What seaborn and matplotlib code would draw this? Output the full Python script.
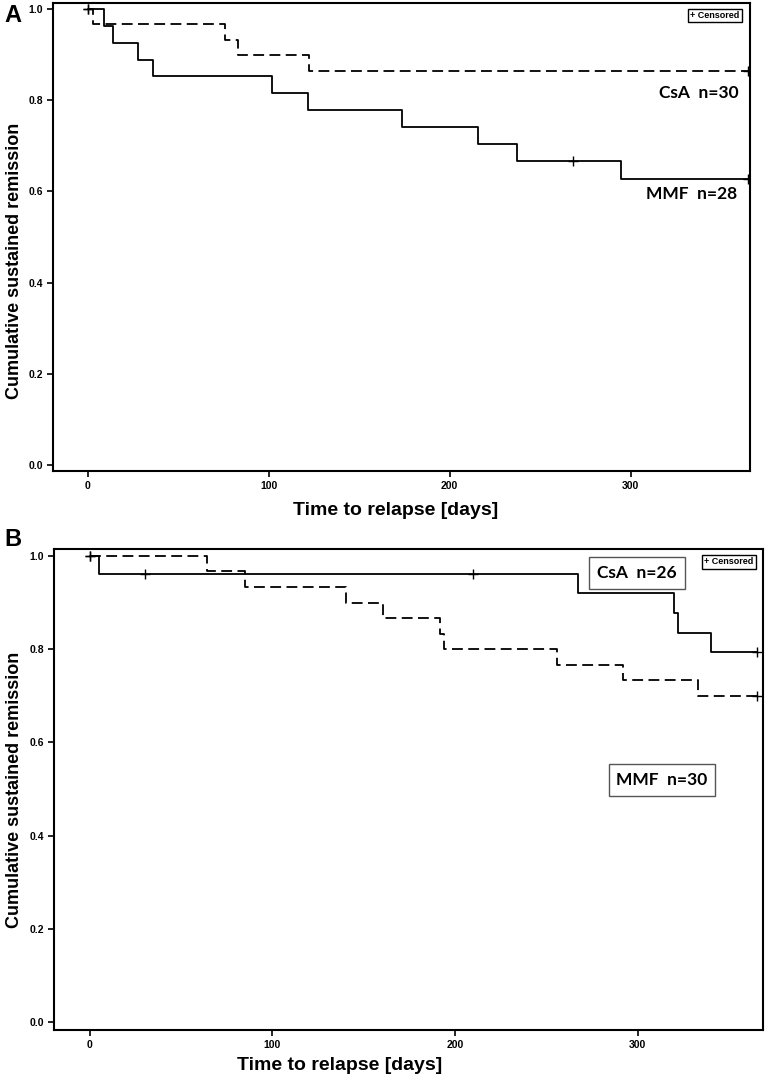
import numpy as np
import pandas as pd
import matplotlib
matplotlib.use("Agg")
import matplotlib.pyplot as plt
import seaborn as sns

# Panel A: step data
a_csa_t = [0, 3, 76, 83, 122, 365]
a_csa_s = [1.0, 0.966, 0.931, 0.898, 0.865, 0.865]
a_csa_cens = [0, 365]

a_mmf_t = [0, 9, 14, 27.5, 36, 101.5, 121.5, 173.5, 215.5, 237, 294.5, 365]
a_mmf_s = [1.0, 0.963, 0.926, 0.889, 0.852, 0.815, 0.778, 0.741, 0.704, 0.667, 0.627, 0.627]
a_mmf_cens = [0, 268, 365]

# Panel B
b_csa_t = [0, 5, 267, 320, 322, 340, 365]
b_csa_s = [1.0, 0.961, 0.92, 0.877, 0.835, 0.793, 0.793]
b_csa_cens = [0, 30, 210, 365]

b_mmf_t = [0, 64, 85, 140, 160.5, 191.5, 194, 256, 292, 333, 365]
b_mmf_s = [1.0, 0.968, 0.933, 0.9, 0.867, 0.833, 0.8, 0.767, 0.733, 0.7, 0.7]
b_mmf_cens = [0, 365]

x_ticks = [0, 100, 200, 300]
y_ticks = [0.0, 0.2, 0.4, 0.6, 0.8, 1.0]

W, H = 768, 1077

sns.set_style("ticks")
plt.rcParams["font.family"] = ["Liberation Sans Narrow", "Liberation Sans", "DejaVu Sans"]
plt.rcParams["text.color"] = "black"
plt.rcParams["axes.labelcolor"] = "black"
plt.rcParams["xtick.color"] = "black"
plt.rcParams["ytick.color"] = "black"


def km_frame(times, surv, group):
    return pd.DataFrame({"t": times, "s": surv, "group": group})


def cens_y(times, surv, cens):
    idx = np.searchsorted(np.array(times), np.array(cens), side="right") - 1
    return np.array(surv)[idx]


def axes_px(fig, left, top, right, bottom):
    return fig.add_axes([left / W, 1 - bottom / H, (right - left) / W, (bottom - top) / H])


def draw_panel(ax, curves, xlim, ylim):
    df = pd.concat([km_frame(t, s, g) for g, t, s, _, _ in curves], ignore_index=True)
    dashes = {g: d for g, _, _, _, d in curves}
    sns.lineplot(data=df, x="t", y="s", style="group", dashes=dashes, color="black",
                 drawstyle="steps-post", estimator=None, legend=False, linewidth=1.3, ax=ax)
    for g, t, s, cens, _ in curves:
        sns.scatterplot(x=cens, y=cens_y(t, s, cens), marker="+", s=45, color="black",
                        linewidth=1.0, ax=ax, legend=False, zorder=5)
    ax.set_xlim(*xlim)
    ax.set_ylim(*ylim)
    ax.set_xticks(x_ticks)
    ax.set_yticks(y_ticks)
    ax.set_xticklabels([str(v) for v in x_ticks], fontsize=7.5, fontweight="bold")
    ax.set_yticklabels([f"{v:.1f}" for v in y_ticks], fontsize=7.5, fontweight="bold")
    ax.tick_params(direction="out", length=4, width=1.2, pad=3)
    for sp in ax.spines.values():
        sp.set_visible(True)
        sp.set_linewidth(1.5)
        sp.set_color("black")
    ax.set_xlabel("Time to relapse [days]", fontsize=14, fontweight="bold")
    ax.set_ylabel("Cumulative sustained remission", fontsize=13, fontweight="bold",
                  family=["Liberation Sans", "DejaVu Sans"])


fig = plt.figure(figsize=(W / 100, H / 100), dpi=100)

# ---- Panel A ----
axA = axes_px(fig, 53, 3, 750, 471)
draw_panel(axA,
           [("CsA", a_csa_t, a_csa_s, a_csa_cens, (6, 3)),
            ("MMF", a_mmf_t, a_mmf_s, a_mmf_cens, "")],
           (-19.3, 366), (-0.013, 1.013))
axA.xaxis.set_label_coords((396 - 53) / 697, (471 - 510) / 468)
axA.xaxis.label.set_va("center")
axA.yaxis.set_label_coords((15 - 53) / 697, (471 - 261) / 468)
axA.yaxis.label.set_va("center")
fig.text(739 / W, 1 - 93 / H, "CsA  n=30", ha="right", va="center", fontsize=12.5,
         fontweight="bold", family=["Lato", "DejaVu Sans"])
fig.text(737 / W, 1 - 194 / H, "MMF  n=28", ha="right", va="center", fontsize=12.5,
         fontweight="bold", family=["Lato", "DejaVu Sans"])
fig.text(715 / W, 1 - 15.5 / H, "+ Censored", ha="center", va="center", fontsize=6.5,
         fontweight="bold",
         bbox=dict(boxstyle="square,pad=0.25", fc="white", ec="black", lw=1.0))
fig.text(4 / W, 1 - 15 / H, "A", ha="left", va="center", fontsize=17, fontweight="bold",
         family=["Liberation Sans", "DejaVu Sans"])

# ---- Panel B ----
axB = axes_px(fig, 54, 549, 763, 1030)
draw_panel(axB,
           [("CsA", b_csa_t, b_csa_s, b_csa_cens, ""),
            ("MMF", b_mmf_t, b_mmf_s, b_mmf_cens, (6, 3))],
           (-19.6, 368.5), (-0.017, 1.015))
axB.xaxis.set_label_coords((340 - 54) / 709, (1030 - 1065) / 481)
axB.xaxis.label.set_va("center")
axB.yaxis.set_label_coords((15 - 54) / 709, (1030 - 790) / 481)
axB.yaxis.label.set_va("center")
fig.text(637 / W, 1 - 573 / H, "CsA  n=26", ha="center", va="center", fontsize=12.5,
         fontweight="bold", family=["Lato", "DejaVu Sans"],
         bbox=dict(boxstyle="square,pad=0.45", fc="white", ec="#555555", lw=1.0))
fig.text(662 / W, 1 - 780 / H, "MMF  n=30", ha="center", va="center", fontsize=12.5,
         fontweight="bold", family=["Lato", "DejaVu Sans"],
         bbox=dict(boxstyle="square,pad=0.45", fc="white", ec="#555555", lw=1.0))
fig.text(729 / W, 1 - 562 / H, "+ Censored", ha="center", va="center", fontsize=6.5,
         fontweight="bold",
         bbox=dict(boxstyle="square,pad=0.25", fc="white", ec="black", lw=1.0))
fig.text(4 / W, 1 - 539 / H, "B", ha="left", va="center", fontsize=17, fontweight="bold",
         family=["Liberation Sans", "DejaVu Sans"])

fig.savefig("out.png", dpi=100)
